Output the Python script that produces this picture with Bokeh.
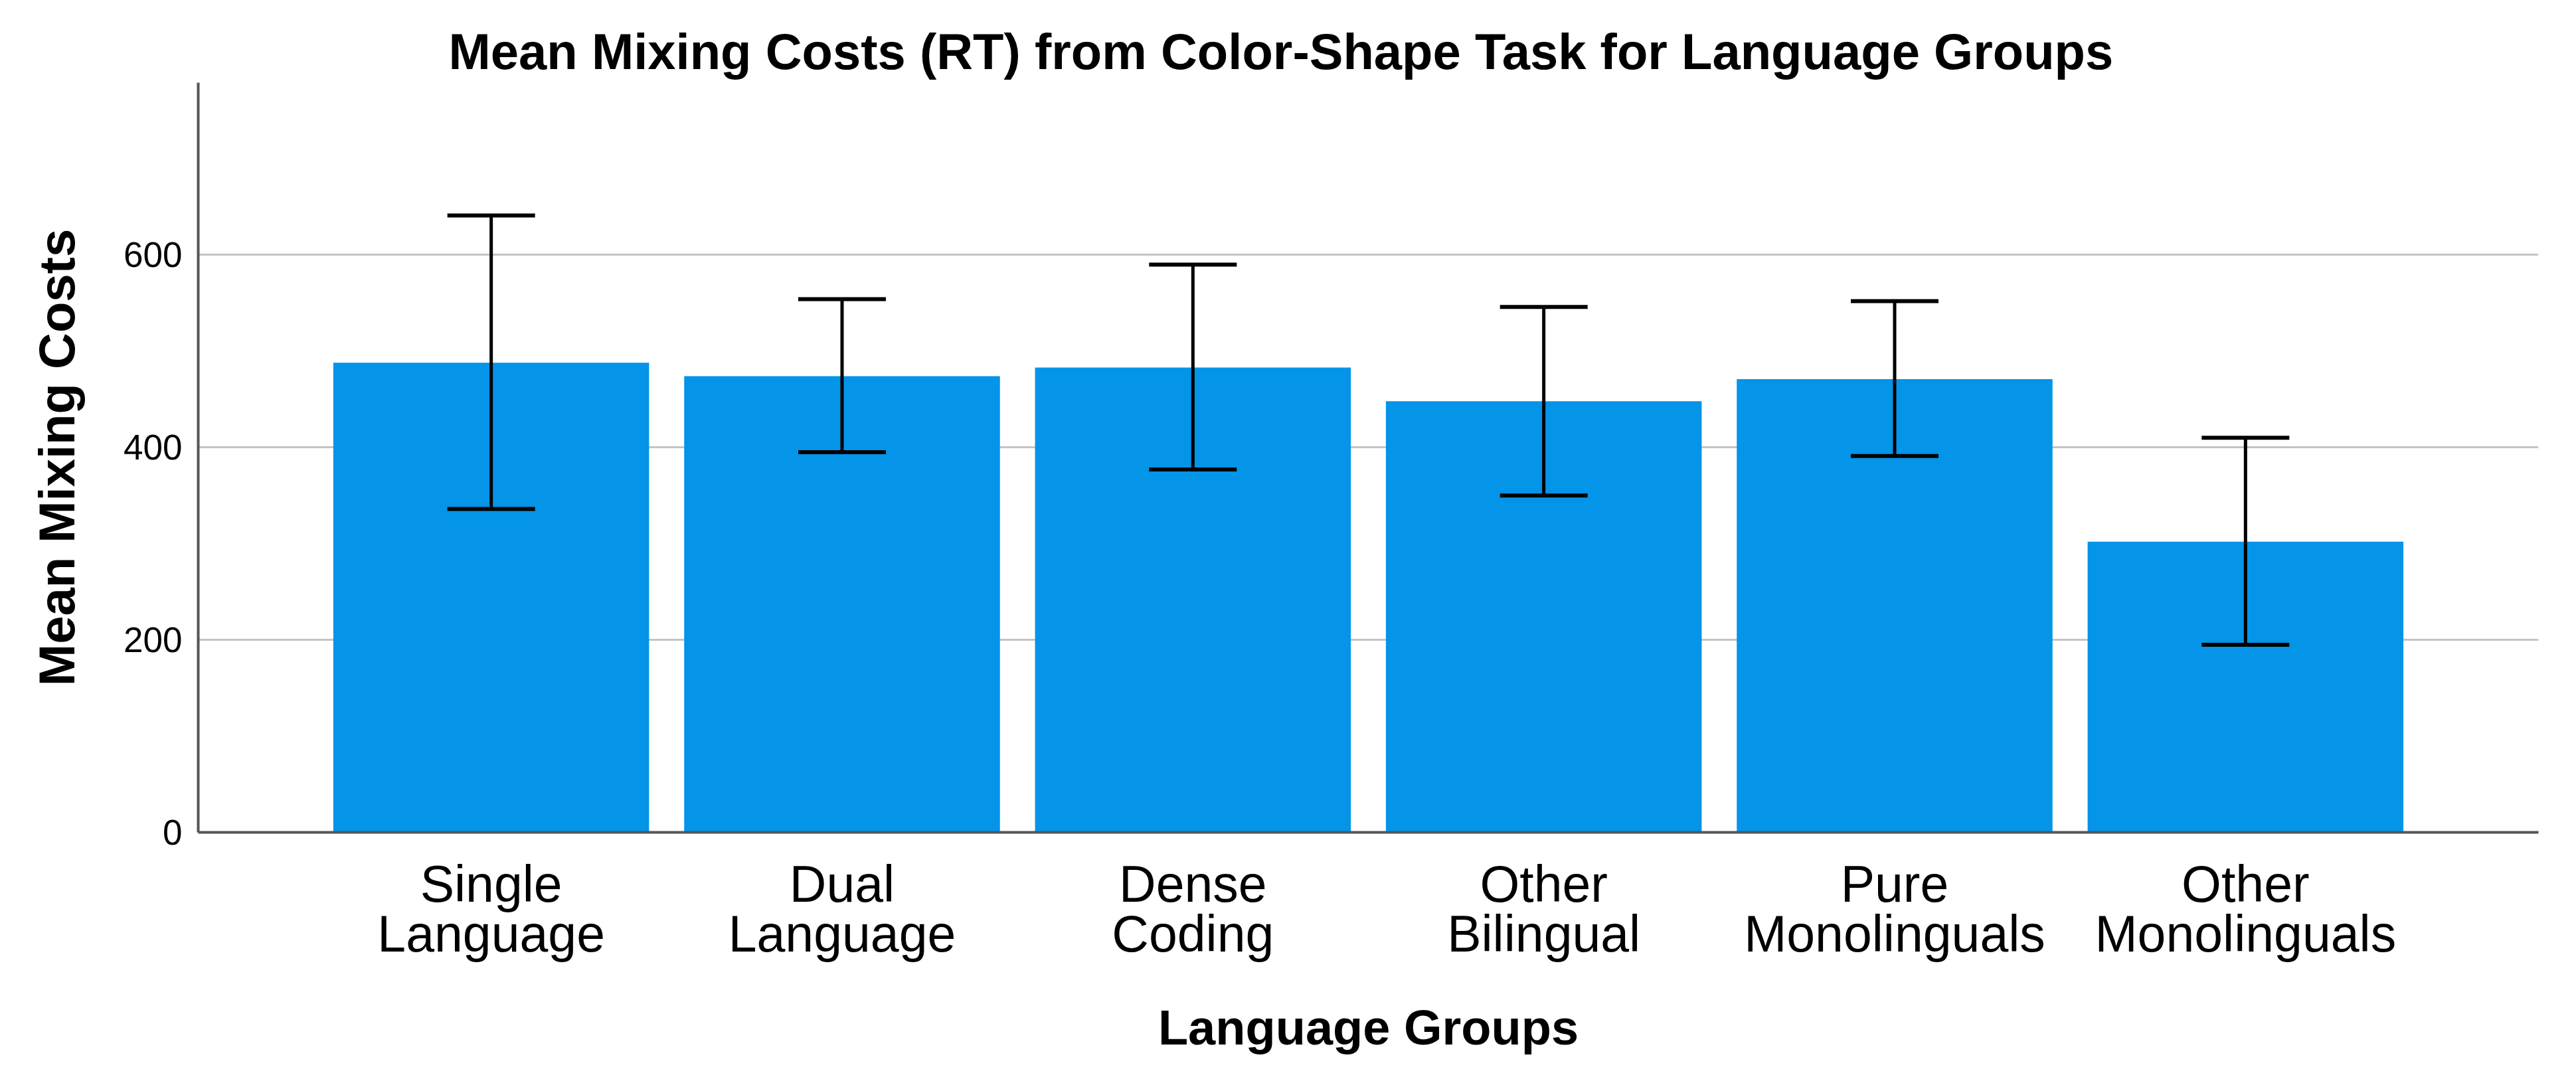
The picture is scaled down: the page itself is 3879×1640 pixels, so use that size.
from bokeh.plotting import figure
from bokeh.models import ColumnDataSource, Whisker, TeeHead, FactorRange, Range1d, FixedTicker
from bokeh.embed import file_html
from bokeh.resources import INLINE

categories = ["Single\nLanguage", "Dual\nLanguage", "Dense\nCoding",
              "Other\nBilingual", "Pure\nMonolinguals", "Other\nMonolinguals"]
means = [488, 474, 483, 448, 471, 302]
ci_upper = [641, 554, 590, 546, 552, 410]
ci_lower = [336, 395, 377, 350, 391, 195]
y_ticks = [0, 200, 400, 600]

src = ColumnDataSource(dict(cat=categories, mean=means, upper=ci_upper, lower=ci_lower))

FONT = "Liberation Sans"

p = figure(
    width=3863, height=1624,
    x_range=FactorRange(factors=categories, range_padding=0.335, range_padding_units="absolute"),
    y_range=Range1d(0, 779),
    output_backend="svg", toolbar_location=None,
    min_border_left=298, min_border_right=41, min_border_top=124, min_border_bottom=371,
    outline_line_color=None,
)

p.vbar(x="cat", top="mean", width=0.9, source=src, fill_color="#0494E8", line_color=None)

w = Whisker(source=src, base="cat", upper="upper", lower="lower",
            line_color="black", line_width=5, level="annotation",
            upper_head=TeeHead(size=132, line_color="black", line_width=6),
            lower_head=TeeHead(size=132, line_color="black", line_width=6))
p.add_layout(w)

# title
p.title.text = "Mean Mixing Costs (RT) from Color-Shape Task for Language Groups"
p.title.text_font = FONT
p.title.text_font_size = "76px"
p.title.text_font_style = "bold"
p.title.text_color = "black"
p.title.align = "left"
p.title.offset = 377
p.title.standoff = 10

# grid
p.xgrid.grid_line_color = None
p.ygrid.grid_line_color = "#C4C4C4"
p.ygrid.grid_line_width = 3
p.yaxis.ticker = FixedTicker(ticks=y_ticks)

# y axis
p.yaxis.axis_label = "Mean Mixing Costs"
p.yaxis.axis_label_text_font = FONT
p.yaxis.axis_label_text_font_size = "76px"
p.yaxis.axis_label_text_font_style = "bold"
p.yaxis.axis_label_text_color = "black"
p.yaxis.axis_label_standoff = 55
p.yaxis.major_label_text_font = FONT
p.yaxis.major_label_text_font_size = "53px"
p.yaxis.major_label_text_color = "black"
p.yaxis.major_label_standoff = 24
p.yaxis.major_tick_line_color = None
p.yaxis.minor_tick_line_color = None
p.yaxis.major_tick_out = 0
p.yaxis.major_tick_in = 0
p.yaxis.axis_line_color = "#555555"
p.yaxis.axis_line_width = 4

# x axis
p.xaxis.axis_label = "Language Groups"
p.xaxis.axis_label_text_font = FONT
p.xaxis.axis_label_text_font_size = "74px"
p.xaxis.axis_label_text_font_style = "bold"
p.xaxis.axis_label_text_color = "black"
p.xaxis.axis_label_standoff = 54
p.xaxis.major_label_text_font = FONT
p.xaxis.major_label_text_font_size = "77px"
p.xaxis.major_label_text_color = "black"
p.xaxis.major_label_text_line_height = 0.88
p.xaxis.major_label_standoff = 34
p.xaxis.major_tick_line_color = None
p.xaxis.minor_tick_line_color = None
p.xaxis.major_tick_out = 0
p.xaxis.major_tick_in = 0
p.xaxis.axis_line_color = "#555555"
p.xaxis.axis_line_width = 4

open("out.html", "w").write(file_html(p, INLINE))
